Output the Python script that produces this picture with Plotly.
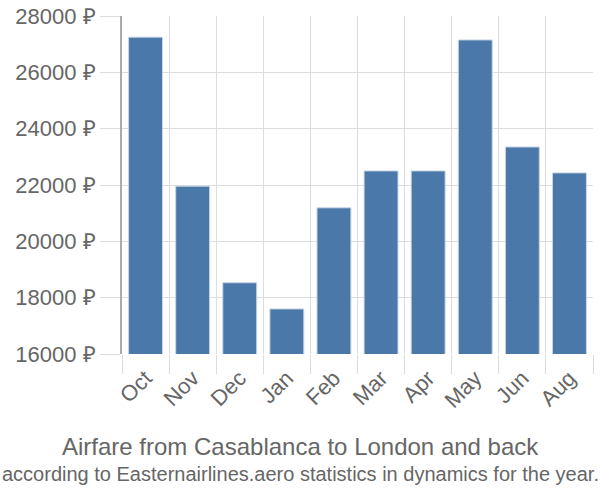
import plotly.graph_objects as go

months = ["Oct", "Nov", "Dec", "Jan", "Feb", "Mar", "Apr", "May", "Jun", "Aug"]
prices = [27250, 21960, 18530, 17600, 21190, 22500, 22500, 27150, 23350, 22430]
y_ticks = [16000, 18000, 20000, 22000, 24000, 26000, 28000]
y_tick_labels = ["16000 ₽", "18000 ₽", "20000 ₽", "22000 ₽", "24000 ₽", "26000 ₽", "28000 ₽"]
title = "Airfare from Casablanca to London and back"
subtitle = "according to Easternairlines.aero statistics in dynamics for the year."

fig = go.Figure(go.Bar(
    x=months, y=prices,
    marker=dict(color="#4a78a8", line=dict(color="#c9d6e6", width=1)),
))

font_family = "Liberation Sans, Arial, sans-serif"
L, R, T, B = 122, 7, 16, 146
W, H = 600, 500
plot_w = W - L - R
plot_h = H - T - B

def px_x(x):
    return (x - L) / plot_w

def px_y(y):
    return (H - B - y) / plot_h

fig.update_layout(
    width=W, height=H,
    margin=dict(l=L, r=R, t=T, b=B),
    paper_bgcolor="white", plot_bgcolor="white",
    bargap=0.28,
    showlegend=False,
    font=dict(family=font_family, color="#666666"),
    xaxis=dict(
        type="category", tickson="boundaries", showgrid=True, gridcolor="#dddddd", gridwidth=1,
        ticks="outside", ticklen=19, tickcolor="#dddddd", tickwidth=1,
        tickangle=-45, tickfont=dict(size=22, color="#666666"),
        ticklabelstandoff=6,
        showline=False, zeroline=False, automargin=False,
    ),
    yaxis=dict(
        range=[16000, 28000], tickvals=y_ticks, ticktext=y_tick_labels,
        showgrid=True, gridcolor="#dddddd", gridwidth=1,
        ticks="outside", ticklen=20, tickcolor="#dddddd", tickwidth=1,
        tickfont=dict(size=22, color="#666666"),
        showline=True, linecolor="#aaaaaa", linewidth=2, zeroline=False, automargin=False,
    ),
    annotations=[
        dict(text=title, x=px_x(300), xref="paper", xanchor="center",
             y=px_y(446), yref="paper", yanchor="middle",
             showarrow=False, font=dict(size=24, color="#666666")),
        dict(text=subtitle, x=px_x(300), xref="paper", xanchor="center",
             y=px_y(474), yref="paper", yanchor="middle",
             showarrow=False, font=dict(size=20, color="#666666")),
    ],
)

fig.write_html("out.html")
